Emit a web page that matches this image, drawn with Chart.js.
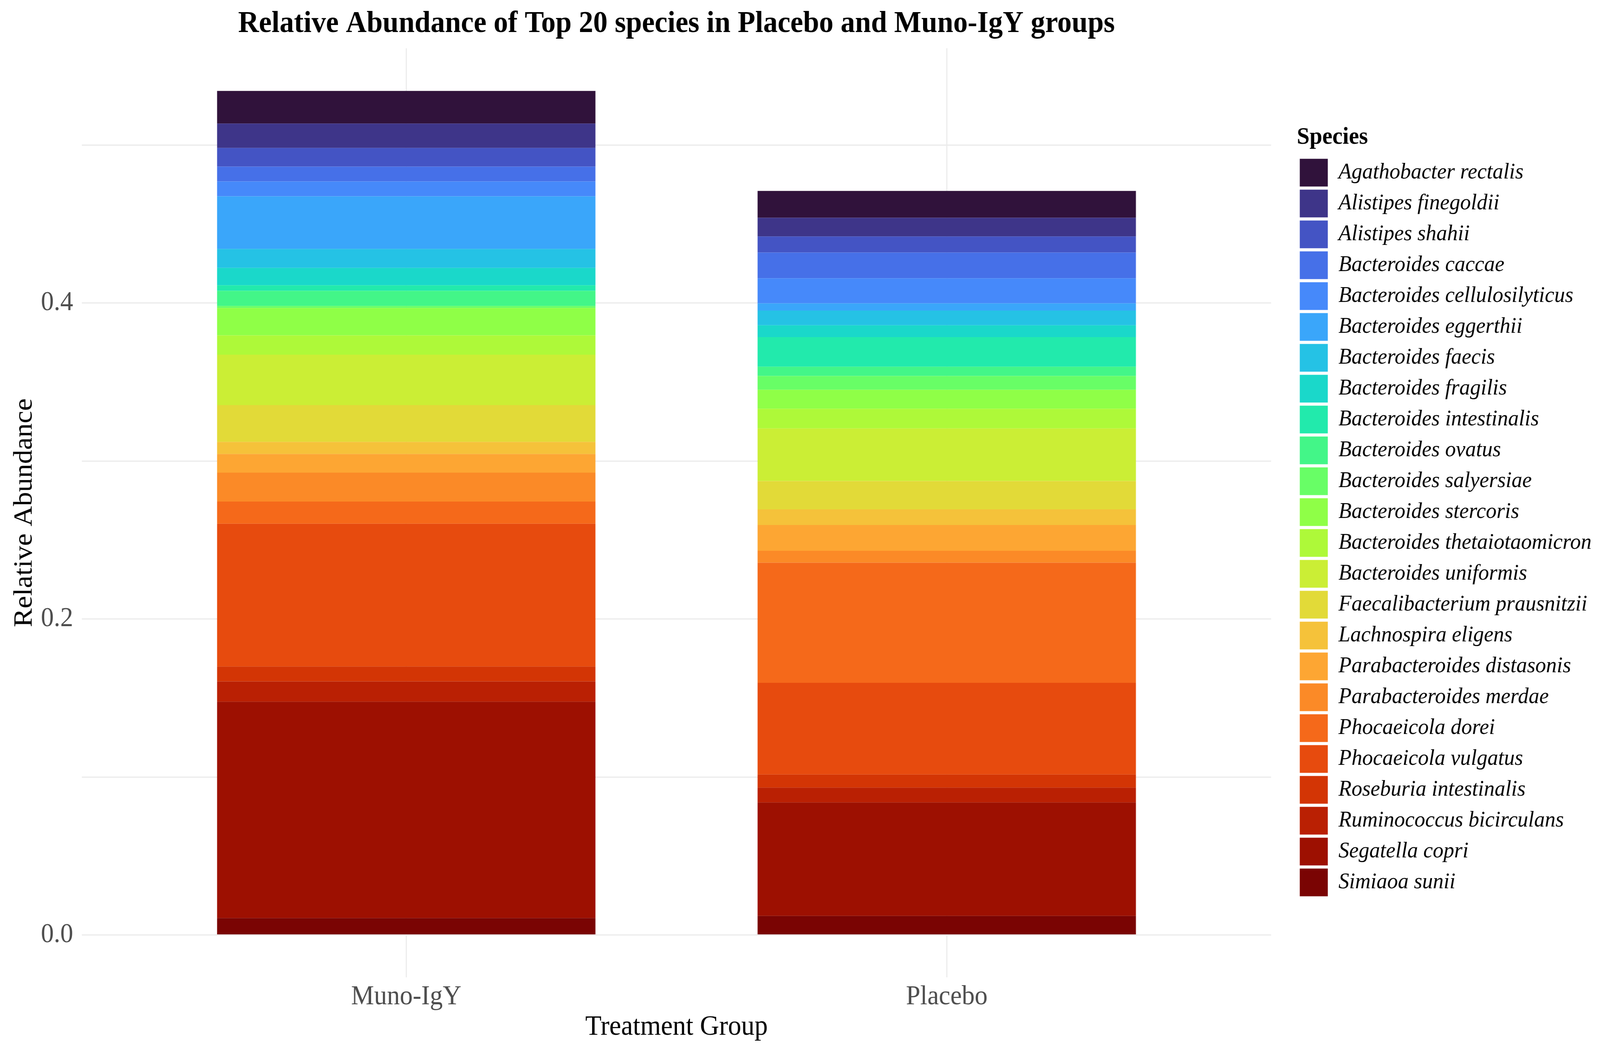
<!DOCTYPE html>
<html>
<head>
<meta charset="utf-8">
<script src="https://cdn.jsdelivr.net/npm/chart.js@4.4.1/dist/chart.umd.min.js"></script>
<style>
  html, body { margin: 0; padding: 0; background: #ffffff; overflow: hidden; }
  #wrap { width: 4342px; height: 2688px; transform-origin: 0 0; }
  #wrap canvas { display: block; }
</style>
</head>
<body>
<div id="wrap"><canvas id="abundanceChart" width="4342" height="2688"></canvas></div>
<script>
const groups = ['Muno-IgY', 'Placebo'];

const species = [
  'Agathobacter rectalis', 'Alistipes finegoldii', 'Alistipes shahii',
  'Bacteroides caccae', 'Bacteroides cellulosilyticus', 'Bacteroides eggerthii',
  'Bacteroides faecis', 'Bacteroides fragilis', 'Bacteroides intestinalis',
  'Bacteroides ovatus', 'Bacteroides salyersiae', 'Bacteroides stercoris',
  'Bacteroides thetaiotaomicron', 'Bacteroides uniformis', 'Faecalibacterium prausnitzii',
  'Lachnospira eligens', 'Parabacteroides distasonis', 'Parabacteroides merdae',
  'Phocaeicola dorei', 'Phocaeicola vulgatus', 'Roseburia intestinalis',
  'Ruminococcus bicirculans', 'Segatella copri', 'Simiaoa sunii'
];

const munoIgY = [
  0.0206, 0.0155, 0.0118, 0.0094, 0.0094, 0.0333,
  0.0120, 0.0110, 0.0035, 0.0096, 0.0012, 0.0174,
  0.0122, 0.0319, 0.0233, 0.0077, 0.0118, 0.0183,
  0.0140, 0.0904, 0.0094, 0.0128, 0.1370, 0.0107
];

const placebo = [
  0.0170, 0.0118, 0.0102, 0.0162, 0.0159, 0.0046,
  0.0093, 0.0075, 0.0187, 0.0059, 0.0087, 0.0120,
  0.0125, 0.0333, 0.0179, 0.0099, 0.0163, 0.0076,
  0.0760, 0.0580, 0.0083, 0.0094, 0.0718, 0.0121
];

const speciesColors = [
  '#30123B', '#3E3589', '#4454C4', '#4670E8', '#4689FA', '#3AA6FA',
  '#25C2E5', '#1AD8CA', '#22EAAC', '#43F688', '#68FE66', '#8FFF47',
  '#AEF939', '#CBEE35', '#E2DA38', '#F5C23A', '#FDA633', '#FB8A27',
  '#F5691A', '#E74B0E', '#D33505', '#BA2003', '#9D1001', '#7A0403'
];

const yTicks = [0, 0.1, 0.2, 0.3, 0.4, 0.5];
const yTickLabels = ['0.0', '', '0.2', '', '0.4', ''];
const yMin = -0.0267;
const yMax = 0.5612;

// the page is laid out at 4342x2688 and fitted to whatever the window is
const wrap = document.getElementById('wrap');
wrap.style.transform = `scale(${window.innerWidth / 4342}, ${window.innerHeight / 2688})`;

Chart.defaults.font.family = "'Liberation Serif', 'DejaVu Serif', serif";
Chart.defaults.color = '#000000';

// first dataset sits at the bottom of the stack, so build them reversed
const datasets = species.map((name, i) => ({
  label: name,
  data: groups.map((g, j) => ({ x: j + 1, y: (j === 0 ? munoIgY : placebo)[i] })),
  backgroundColor: speciesColors[i],
  borderWidth: 0,
  categoryPercentage: 0.7,
  barPercentage: 1.0
})).reverse();

const gridColor = '#EBEBEB';

new Chart(document.getElementById('abundanceChart'), {
  type: 'bar',
  data: { datasets: datasets },
  options: {
    responsive: false,
    animation: false,
    devicePixelRatio: 1,
    layout: { padding: { top: 10, right: 13, bottom: 28, left: 0 } },
    plugins: {
      title: {
        display: true,
        text: 'Relative Abundance of Top 20 species in Placebo and Muno-IgY groups',
        fullSize: false,
        font: { size: 78, weight: 'bold' },
        color: '#000000',
        padding: { top: 5, bottom: 15 }
      },
      legend: {
        position: 'right',
        align: 'start',
        reverse: true,
        maxWidth: 1000,
        title: {
          display: true,
          text: 'Species',
          position: 'start',
          font: { size: 62, weight: 'bold' },
          color: '#000000',
          padding: { top: 311, bottom: 3 }
        },
        labels: {
          boxWidth: 76,
          boxHeight: 71,
          padding: 8,
          color: '#000000',
          font: { size: 58, style: 'italic' }
        }
      },
      tooltip: { enabled: false }
    },
    scales: {
      x: {
        type: 'linear',
        stacked: true,
        offset: false,
        min: 0.4,
        max: 2.6,
        afterBuildTicks: (scale) => {
          scale.ticks = groups.map((g, j) => ({ value: j + 1 }));
        },
        grid: { color: gridColor, lineWidth: 3, drawTicks: false, offset: false },
        border: { display: false },
        ticks: {
          callback: (value) => groups[Math.round(value) - 1] || '',
          color: '#4D4D4D',
          font: { size: 70, lineHeight: 1 },
          padding: 16,
          maxRotation: 0
        },
        title: {
          display: true,
          text: 'Treatment Group',
          font: { size: 72, lineHeight: 0.7 },
          color: '#000000',
          padding: { top: 1, bottom: 5 }
        }
      },
      y: {
        stacked: true,
        min: yMin,
        max: yMax,
        afterBuildTicks: (scale) => {
          scale.ticks = yTicks.map(v => ({ value: v }));
        },
        grid: { color: gridColor, lineWidth: 3, drawTicks: false },
        border: { display: false },
        ticks: {
          callback: (value, index) => yTickLabels[index],
          color: '#4D4D4D',
          font: { size: 70 },
          padding: 24
        },
        title: {
          display: true,
          text: 'Relative Abundance',
          font: { size: 72, lineHeight: 0.54 },
          color: '#000000',
          padding: { top: 48, bottom: 0 }
        }
      },
      yRight: {
        type: 'linear',
        position: 'right',
        display: true,
        grid: { display: false },
        border: { display: false },
        ticks: { display: false },
        afterFit: (scale) => { scale.width = 70; }
      }
    }
  }
});
</script>
</body>
</html>
